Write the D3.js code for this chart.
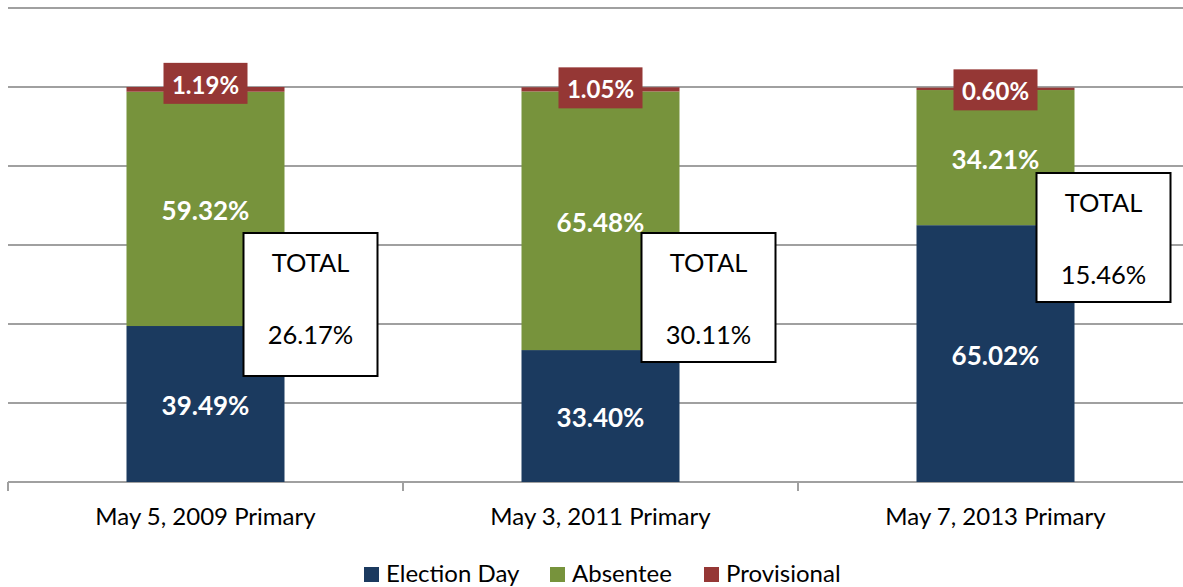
<!DOCTYPE html>
<html>
<head>
<meta charset="utf-8">
<script src="https://cdn.jsdelivr.net/npm/d3@7/dist/d3.min.js"></script>
<style>
  html, body { margin: 0; padding: 0; background: #fff; }
  svg { display: block; }
  text { font-family: Lato, "Open Sans", sans-serif; }
</style>
</head>
<body>
<svg id="chart" width="1183" height="587"></svg>
<script>
// ---- data ----
const categories = ["May 5, 2009 Primary", "May 3, 2011 Primary", "May 7, 2013 Primary"];
const seriesNames = ["Election Day", "Absentee", "Provisional"];
const electionDay = [39.49, 33.40, 65.02];
const absentee = [59.32, 65.48, 34.21];
const provisional = [1.19, 1.05, 0.60];
const totals = ["26.17%", "30.11%", "15.46%"];
const yTicks = [0, 20, 40, 60, 80, 100, 120];

// ---- layout / style (not data) ----
const colors = ["#1b3a5f", "#77933c", "#953735"];
const totalBoxLayout = [
  { dx: -41, top: 233, h: 143 },
  { dx: -38, top: 233, h: 129 },
  { dx: -38, top: 173, h: 129 }
];
const provLabelShift = [-6, -1.5, 1];

const svg = d3.select("#chart");
const x = d3.scaleBand().domain(categories).range([8, 1193]).paddingInner(0.6).paddingOuter(0.3);
const y = d3.scaleLinear().domain([0, 120]).range([482, 8]);

// gridlines
svg.append("g").selectAll("line").data(yTicks.filter(t => t > 0)).join("line")
  .attr("x1", 8).attr("x2", 1183)
  .attr("y1", d => y(d)).attr("y2", d => y(d))
  .attr("stroke", "#a0a0a0").attr("stroke-width", 2);

// x axis
const xAxis = d3.axisBottom(x).tickSize(0).tickFormat(d => d);
const gx = svg.append("g").attr("transform", `translate(0,${y(0)})`).call(xAxis);
gx.select(".domain").remove();
gx.selectAll("text").attr("font-size", 24).attr("fill", "#000").attr("dy", 0).attr("y", 43)
  .attr("font-family", "Lato, sans-serif");
svg.append("line").attr("x1", 8).attr("x2", 1183).attr("y1", y(0)).attr("y2", y(0))
  .attr("stroke", "#a0a0a0").attr("stroke-width", 2);
const step = x.step();
const boundaries = d3.range(categories.length).map(i => x(categories[i]) - x.paddingOuter() * step);
svg.append("g").selectAll("line").data(boundaries).join("line")
  .attr("x1", d => d).attr("x2", d => d).attr("y1", y(0)).attr("y2", y(0) + 9)
  .attr("stroke", "#a0a0a0").attr("stroke-width", 2);

// stack
const rows = categories.map((c, i) => ({ cat: c, "Election Day": electionDay[i], "Absentee": absentee[i], "Provisional": provisional[i] }));
const stack = d3.stack().keys(seriesNames)(rows);

const gBars = svg.append("g");
stack.forEach((layer, si) => {
  gBars.selectAll(null).data(layer).join("rect")
    .attr("x", d => x(d.data.cat))
    .attr("width", x.bandwidth())
    .attr("y", d => y(d[1]))
    .attr("height", d => y(d[0]) - y(d[1]))
    .attr("fill", colors[si]);
});

// value labels for Election Day and Absentee
stack.slice(0, 2).forEach((layer, si) => {
  svg.append("g").selectAll("text").data(layer).join("text")
    .attr("x", d => x(d.data.cat) + x.bandwidth() / 2)
    .attr("y", d => (y(d[0]) + y(d[1])) / 2 + 1)
    .attr("text-anchor", "middle").attr("dominant-baseline", "central")
    .attr("font-size", 26).attr("font-weight", "bold").attr("fill", "#fff")
    .text(d => (d[1] - d[0]).toFixed(2) + "%");
});

// provisional labels with red background
const provLayer = stack[2];
provLayer.forEach((d, i) => {
  const cx = x(d.data.cat) + x.bandwidth() / 2;
  const cy = (y(d[0]) + y(d[1])) / 2 + provLabelShift[i];
  const g = svg.append("g");
  g.append("rect").attr("x", cx - 42).attr("y", cy - 20.5).attr("width", 84).attr("height", 41)
    .attr("fill", colors[2]);
  g.append("text").attr("x", cx).attr("y", cy + 1)
    .attr("text-anchor", "middle").attr("dominant-baseline", "central")
    .attr("font-size", 24).attr("font-weight", "bold").attr("fill", "#fff")
    .text(provisional[i].toFixed(2) + "%");
});

// TOTAL boxes
categories.forEach((c, i) => {
  const L = totalBoxLayout[i];
  const bx = x(c) + x.bandwidth() + L.dx;
  const g = svg.append("g");
  g.append("rect").attr("x", bx).attr("y", L.top).attr("width", 134).attr("height", L.h)
    .attr("fill", "#fff").attr("stroke", "#000").attr("stroke-width", 2);
  g.append("text").attr("x", bx + 67).attr("y", L.top + 39)
    .attr("text-anchor", "middle").attr("font-size", 25.5).attr("fill", "#000").text("TOTAL");
  g.append("text").attr("x", bx + 67).attr("y", L.top + 111)
    .attr("text-anchor", "middle").attr("font-size", 25.5).attr("fill", "#000").text(totals[i]);
});

// legend
const legendX = [364, 550, 704];
const lg = svg.append("g");
seriesNames.forEach((n, i) => {
  lg.append("rect").attr("x", legendX[i]).attr("y", 567).attr("width", 15).attr("height", 15).attr("fill", colors[i]);
  lg.append("text").attr("x", legendX[i] + 22).attr("y", 582).attr("font-size", 24).attr("fill", "#000").text(n);
});
</script>
</body>
</html>
